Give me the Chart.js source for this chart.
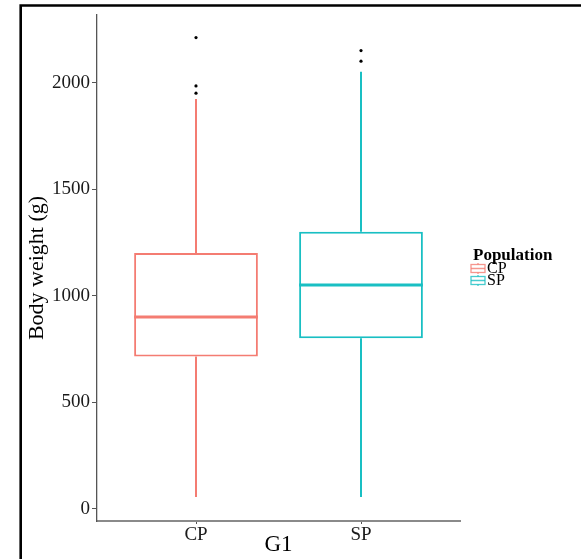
<!DOCTYPE html>
<html>
<head>
<meta charset="utf-8">
<script src="https://cdn.jsdelivr.net/npm/chart.js@4/dist/chart.umd.min.js"></script>
<style>
  html, body { margin: 0; padding: 0; background: #ffffff; }
  #wrap { position: relative; width: 581px; height: 559px; }
</style>
</head>
<body>
<div id="wrap"><canvas id="c" width="581" height="559"></canvas></div>
<script>
// ---- data ----
const categories   = ['CP', 'SP'];
const whiskerLow   = [55, 55];
const q1Values     = [715, 800];
const medianValues = [900, 1050];
const q3Values     = [1200, 1300];
const whiskerHigh  = [1924, 2052];
const outliersCP   = [1951, 1985, 2212];
const outliersSP   = [2101, 2151];
const outliers     = [outliersCP, outliersSP];
const yTickValues  = [0, 500, 1000, 1500, 2000];
const seriesColors = ['#F47C72', '#19BFC3'];
const legendTitle  = 'Population';
const xTitle = 'G1';
const yTitle = 'Body weight (g)';

const SERIF = "'Liberation Serif', 'Times New Roman', serif";

const boxData = categories.map((c, i) => ({ x: i + 1, y: [q1Values[i], q3Values[i]] }));
const outlierData = [];
outliers.forEach((arr, i) => arr.forEach(v => outlierData.push({ x: i + 1, y: v })));

const framePlugin = {
  id: 'frame',
  beforeDraw(chart) {
    const ctx = chart.ctx;
    ctx.save();
    ctx.fillStyle = '#ffffff';
    ctx.fillRect(0, 0, chart.width, chart.height);
    ctx.strokeStyle = '#000000';
    ctx.lineWidth = 2.6;
    ctx.beginPath();
    ctx.moveTo(20.7, chart.height);
    ctx.lineTo(20.7, 5.5);
    ctx.lineTo(chart.width, 5.5);
    ctx.stroke();
    ctx.restore();
  }
};

const boxplotPlugin = {
  id: 'boxplotParts',
  afterDatasetsDraw(chart) {
    const ctx = chart.ctx;
    const y = chart.scales.y;
    const meta = chart.getDatasetMeta(0);
    ctx.save();
    meta.data.forEach((el, i) => {
      const col = seriesColors[i];
      const half = el.width / 2;
      ctx.strokeStyle = col;
      // whiskers
      ctx.lineWidth = 2;
      ctx.beginPath();
      ctx.moveTo(el.x, y.getPixelForValue(q3Values[i]));
      ctx.lineTo(el.x, y.getPixelForValue(whiskerHigh[i]));
      ctx.moveTo(el.x, y.getPixelForValue(q1Values[i]));
      ctx.lineTo(el.x, y.getPixelForValue(whiskerLow[i]));
      ctx.stroke();
      // median
      ctx.lineWidth = 3;
      ctx.beginPath();
      const my = y.getPixelForValue(medianValues[i]);
      ctx.moveTo(el.x - half, my);
      ctx.lineTo(el.x + half, my);
      ctx.stroke();
    });
    ctx.restore();
  }
};

const legendPlugin = {
  id: 'customLegend',
  afterDraw(chart) {
    const ctx = chart.ctx;
    ctx.save();
    const x0 = 473;
    ctx.fillStyle = '#000000';
    ctx.textBaseline = 'middle';
    ctx.textAlign = 'left';
    ctx.font = "bold 17px " + SERIF;
    ctx.fillText(legendTitle, x0, 256);
    ctx.font = "16px " + SERIF;
    categories.forEach((c, i) => {
      const cy = 268.5 + i * 12;
      const kx = 471, kw = 14, kh = 8;
      ctx.strokeStyle = seriesColors[i];
      ctx.globalAlpha = 0.8;
      ctx.lineWidth = 1.3;
      ctx.strokeRect(kx, cy - kh / 2, kw, kh);
      ctx.beginPath();
      ctx.moveTo(kx, cy); ctx.lineTo(kx + kw, cy);
      ctx.moveTo(kx + kw / 2, cy - kh / 2); ctx.lineTo(kx + kw / 2, cy - kh / 2 - 1.5);
      ctx.moveTo(kx + kw / 2, cy + kh / 2); ctx.lineTo(kx + kw / 2, cy + kh / 2 + 1.5);
      ctx.stroke();
      ctx.globalAlpha = 1;
      ctx.fillStyle = '#000000';
      ctx.fillText(c, 487, cy + 0.5);
    });
    ctx.restore();
  }
};

new Chart(document.getElementById('c'), {
  type: 'bar',
  data: {
    datasets: [
      {
        type: 'bar',
        data: boxData,
        backgroundColor: '#ffffff',
        borderColor: seriesColors,
        borderWidth: 2,
        borderSkipped: false,
        categoryPercentage: 1,
        barPercentage: 0.75,
        order: 2
      },
      {
        type: 'scatter',
        data: outlierData,
        backgroundColor: '#000000',
        borderColor: '#000000',
        pointRadius: 1.6,
        borderWidth: 0,
        order: 1
      }
    ]
  },
  options: {
    responsive: false,
    animation: false,
    devicePixelRatio: 1,
    layout: { padding: { left: 0, right: 121, top: 15, bottom: 0 } },
    plugins: {
      legend: { display: false },
      tooltip: { enabled: false }
    },
    scales: {
      x: {
        type: 'linear',
        min: 0.4,
        max: 2.6,
        offset: false,
        afterBuildTicks(scale) { scale.ticks = categories.map((c, i) => ({ value: i + 1 })); },
        afterFit(scale) { scale.height = 38; },
        ticks: {
          callback: (v) => categories[Math.round(v) - 1] || '',
          font: { family: SERIF, size: 19 },
          color: '#1a1a1a',
          padding: 0,
          maxRotation: 0
        },
        grid: { offset: false, drawOnChartArea: false, drawTicks: true, tickLength: 3, color: '#555555' },
        border: { display: true, color: '#8a8a8a', width: 2 },
        title: {
          display: true,
          text: xTitle,
          font: { family: SERIF, size: 23 },
          color: '#000000',
          padding: { top: 0, bottom: 0 }
        }
      },
      y: {
        type: 'linear',
        min: -58,
        max: 2318,
        afterBuildTicks(scale) { scale.ticks = yTickValues.map(v => ({ value: v })); },
        afterFit(scale) { scale.width = 97; },
        ticks: {
          callback: (v) => String(v),
          font: { family: SERIF, size: 19 },
          color: '#1a1a1a',
          padding: 2
        },
        grid: { drawOnChartArea: false, drawTicks: true, tickLength: 5, color: '#555555' },
        border: { display: true, color: '#555555', width: 1.3 },
        title: {
          display: true,
          text: yTitle,
          font: { family: SERIF, size: 22 },
          color: '#000000',
          padding: { top: 24, bottom: 0 }
        }
      }
    }
  },
  plugins: [framePlugin, boxplotPlugin, legendPlugin]
});
</script>
</body>
</html>
